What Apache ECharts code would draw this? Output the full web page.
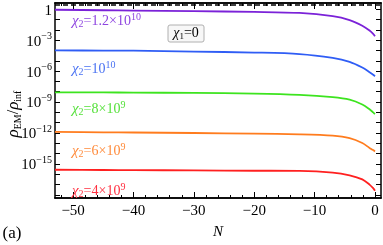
<!DOCTYPE html>
<html><head><meta charset="utf-8">
<script src="https://cdn.jsdelivr.net/npm/echarts@6/dist/echarts.min.js"></script>
<style>html,body{margin:0;padding:0;background:#fff}#c{width:383px;height:245px}</style>
</head><body><div id="c"></div>
<script>
// e-folds N
const N = [-53, -45, -40, -30, -20, -12.5, -7, -4.2, -2.1, -0.9, -0.3, 0];
// rho_EM / rho_inf for each chi2
const chi2_12e10 = [0.891, 0.794, 0.741, 0.646, 0.550, 0.437, 0.214, 0.0891, 0.0251, 0.00851, 0.00398, 0.00234];
const chi2_1e10  = [1.0e-4, 9.8e-5, 9.5e-5, 7.9e-5, 6.3e-5, 4.5e-5, 1.9e-5, 7.9e-6, 2.2e-6, 7.9e-7, 4.5e-7, 3.2e-7];
const chi2_8e9   = [8.7e-9, 8.5e-9, 8.3e-9, 7.6e-9, 6.6e-9, 5.0e-9, 3.0e-9, 1.7e-9, 5.8e-10, 2.0e-10, 1.0e-10, 6.8e-11];
const chi2_6e9   = [1.26e-12, 1.17e-12, 1.12e-12, 1.0e-12, 8.7e-13, 7.4e-13, 5.5e-13, 3.2e-13, 1.07e-13, 3.6e-14, 2.2e-14, 1.6e-14];
const chi2_4e9   = [2.75e-16, 2.6e-16, 2.5e-16, 2.4e-16, 2.2e-16, 2.1e-16, 1.45e-16, 7.9e-17, 3.2e-17, 1.0e-17, 4.5e-18, 2.5e-18];
const dashLevel = 2.7;
// axis ranges and ticks
const xRange = [-53, 1];
const yRange = [5.0e-19, 4.0];
const xMajorTicks = [-50, -40, -30, -20, -10, 0];
const xMinorTicks = [-52,-50,-48,-46,-44,-42,-40,-38,-36,-34,-32,-30,-28,-26,-24,-22,-20,-18,-16,-14,-12,-10,-8,-6,-4,-2,0];
const yTicks = [1,1e-1,1e-2,1e-3,1e-4,1e-5,1e-6,1e-7,1e-8,1e-9,1e-10,1e-11,1e-12,1e-13,1e-14,1e-15,1e-16,1e-17,1e-18];
const yLabels = [1, 1e-3, 1e-6, 1e-9, 1e-12, 1e-15];

const FONT = '"Liberation Serif","DejaVu Serif",serif';
const curves = [
  {d: chi2_12e10, c: '#7b22d8'},
  {d: chi2_1e10,  c: '#2f5df5'},
  {d: chi2_8e9,   c: '#3de41f'},
  {d: chi2_6e9,   c: '#ff7c1e'},
  {d: chi2_4e9,   c: '#ff2020'}
];
function pairs(arr){ return N.map((n,i)=>[n, arr[i]]); }
function yFmt(v){
  const e = Math.round(Math.log10(v));
  if (e === 0) return '{b|1}';
  return '{b|10}{s|\u2212' + (-e) + '}';
}
const axisLineStyle = {color:'#000', width:1.5};
function xAx(pos, ticks, len, labels){
  return {
    type:'value', position:pos, min:xRange[0], max:xRange[1],
    axisLine:{show:true, onZero:false, lineStyle:axisLineStyle},
    axisTick:{show:true, inside:true, length:len, customValues:ticks, lineStyle:{color:'#000', width:1}},
    axisLabel:{show:labels, customValues: labels ? xMajorTicks : undefined, margin:6,
      fontFamily:FONT, fontSize:15, color:'#000', formatter: v => (v<0?'\u2212':'') + Math.abs(v)},
    splitLine:{show:false},
    name: (labels ? 'N' : ''), nameLocation:'middle', nameGap:27,
    nameTextStyle:{fontFamily:FONT, fontStyle:'italic', fontSize:15, color:'#000'}
  };
}
function yAx(pos, labels){
  return {
    type:'log', logBase:10, position:pos, min:yRange[0], max:yRange[1],
    axisLine:{show:true, onZero:false, lineStyle:axisLineStyle},
    axisTick:{show:true, inside:true, length:5, customValues:yTicks, lineStyle:{color:'#000', width:1}},
    axisLabel:{show:labels, customValues: labels ? yLabels : undefined, margin:3, formatter:yFmt,
      rich:{
        b:{fontFamily:FONT, fontSize:15, color:'#000', lineHeight:18, verticalAlign:'bottom'},
        s:{fontFamily:FONT, fontSize:10, color:'#000', verticalAlign:'top', lineHeight:12}
      }},
    splitLine:{show:false}
  };
}
function lbl(x, y, color, parts){
  return {type:'text', x:x, y:y, z:100, style:{
    text: parts, fill: color, verticalAlign:'middle', align:'left',
    rich:{
      x:{fontFamily:FONT, fontStyle:'italic', fontSize:15, fill:color, lineHeight:17},
      m:{fontFamily:FONT, fontSize:14, fill:color, lineHeight:17},
      sub:{fontFamily:FONT, fontSize:10, fill:color, verticalAlign:'bottom'},
      sup:{fontFamily:FONT, fontSize:10, fill:color, verticalAlign:'top'}
    }}};
}
const chart = echarts.init(document.getElementById('c'), null, {renderer:'canvas'});
chart.setOption({
  animation:false,
  backgroundColor:'#fff',
  grid:{left:55, top:3, width:326, height:200, containLabel:false},
  xAxis:[xAx('bottom', xMajorTicks, 6, true), xAx('bottom', xMinorTicks, 3, false),
         xAx('top', xMajorTicks, 6, false), xAx('top', xMinorTicks, 3, false)],
  yAxis:[yAx('left', true), yAx('right', false)],
  series: curves.map(c => ({
    type:'line', data: pairs(c.d), smooth:0.3, symbol:'none', xAxisIndex:0, yAxisIndex:0,
    lineStyle:{color:c.c, width:1.8}
  })).concat([{
    type:'line', data:[], xAxisIndex:0, yAxisIndex:0, symbol:'none',
    markLine:{symbol:'none', silent:true, label:{show:false},
      lineStyle:{type:[5,3], color:'#000', width:1.5},
      data:[{yAxis:dashLevel}]}
  }]),
  graphic:[
    lbl(72, 21, '#8e45e0', '{x|\u03c7}{sub|2}{m|=1.2\u00d710}{sup|10}'),
    lbl(72, 69, '#4a72f2', '{x|\u03c7}{sub|2}{m|=10}{sup|10}'),
    lbl(72, 109, '#55e03a', '{x|\u03c7}{sub|2}{m|=8\u00d710}{sup|9}'),
    lbl(72, 151, '#ff8a3a', '{x|\u03c7}{sub|2}{m|=6\u00d710}{sup|9}'),
    lbl(72, 191, '#ff3040', '{x|\u03c7}{sub|2}{m|=4\u00d710}{sup|9}'),
    {type:'rect', shape:{x:168, y:25, width:36, height:17, r:2}, z:90,
      style:{fill:'#f7f7f7', stroke:'#b0b0b0', lineWidth:1}},
    {type:'text', x:186, y:33.5, z:100, style:{
      text:'{x|\u03c7}{sub|1}{m|=0}', align:'center', verticalAlign:'middle',
      rich:{x:{fontFamily:FONT, fontStyle:'italic', fontSize:14, fill:'#000', lineHeight:16},
            m:{fontFamily:FONT, fontSize:14, fill:'#000', lineHeight:16},
            sub:{fontFamily:FONT, fontSize:9, fill:'#000', verticalAlign:'bottom'}}}},
    {type:'text', x:14, y:114, rotation:Math.PI/2, z:100, style:{
      text:'{r|\u03c1}{s|EM}{m|/}{r|\u03c1}{s|inf}', align:'center', verticalAlign:'middle',
      rich:{r:{fontFamily:FONT, fontStyle:'italic', fontSize:17, fill:'#000', lineHeight:18},
            m:{fontFamily:FONT, fontSize:16, fill:'#000', lineHeight:18},
            s:{fontFamily:FONT, fontSize:10, fill:'#000', verticalAlign:'bottom'}}}},
    {type:'text', x:12, y:234, z:100, style:{text:'(a)', font:'17px ' + FONT, fill:'#000',
      align:'center', verticalAlign:'middle'}}
  ]
});
</script></body></html>
